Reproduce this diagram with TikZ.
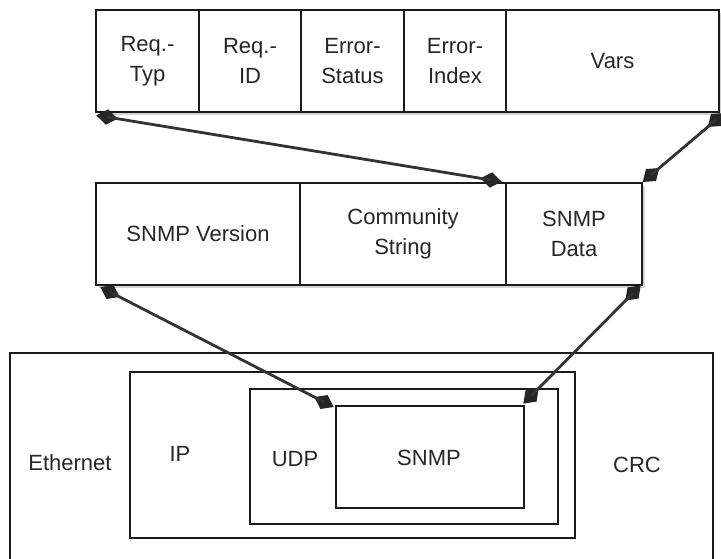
\documentclass[tikz,border=0pt]{standalone}
\usepackage{fontspec}
\setmainfont{Liberation Sans}
\usetikzlibrary{positioning, shapes.geometric}
\definecolor{rahmen}{HTML}{1A1A1A}
\definecolor{schatten}{HTML}{D4D4D4}

\begin{document}
\begin{tikzpicture}[x=0.5pt, y=-0.5pt,
  every node/.style={font=\fontsize{11}{15}\selectfont, text=black!85},
  feld/.style={draw=rahmen, line width=0.9pt, fill=white, minimum height=51pt,
    inner sep=0pt, outer sep=0pt, align=center},
  raute/.style={diamond, fill=black!85, inner sep=0pt, aspect=1.4,
    minimum width=11pt, minimum height=8pt},
  verbindung/.style={line width=1.4pt, black!80},
  kasten/.style={draw=rahmen, line width=0.9pt}]

  \useasboundingbox (0,0) rectangle (721,558);

  % === PDU (oben) ===
  \fill[schatten] (99,13) rectangle (723,115);
  \node[feld, anchor=north west, minimum width=51.5pt] (reqtyp) at (96,10) {Req.-\\Typ};
  \node[feld, minimum width=51pt, right=0pt of reqtyp] (reqid) {Req.-\\ID};
  \node[feld, minimum width=51.5pt, right=0pt of reqid] (errstatus) {Error-\\Status};
  \node[feld, minimum width=51pt, right=0pt of errstatus] (errindex) {Error-\\Index};
  \node[feld, minimum width=106.5pt, right=0pt of errindex] (vars) {Vars};

  % === SNMP-Nachricht (Mitte) ===
  \fill[schatten] (99,186) rectangle (645,288);
  \node[feld, anchor=north west, minimum width=102pt] (version) at (96,183) {SNMP Version};
  \node[feld, minimum width=103pt, right=0pt of version] (community) {Community\\String};
  \node[feld, minimum width=68pt, right=0pt of community] (daten) {SNMP\\Data};

  % === Rahmen (unten) ===
  \draw[kasten] (10,562) -- (10,353) -- (713,353) -- (713,562);
  \draw[kasten] (130,372) rectangle (575,538);
  \draw[kasten] (250,389) rectangle (558,524);
  \draw[kasten] (336,406) rectangle (524,508);

  \node (ethernet) at (70,463) {Ethernet};
  \node (ip) at (180,454) {IP};
  \node (udp) at (295,459) {UDP};
  \node (snmp) at (429,458) {SNMP};
  \node (crc) at (637,465) {CRC};

  % === Verbindungen ===
  \node[raute, rotate=-9] (d1) at (107,117) {};
  \node[raute, rotate=40] (d2) at (716,120) {};
  \node[raute, rotate=-9] (d3) at (491,180) {};
  \node[raute, rotate=40] (d4) at (651,175) {};
  \node[raute, rotate=-27] (d5) at (110,292) {};
  \node[raute, rotate=45] (d6) at (633,293) {};
  \node[raute, rotate=-27] (d7) at (324,402) {};
  \node[raute, rotate=45] (d8) at (531,396) {};

  \draw[verbindung] (d1.center) -- (d3.center);
  \draw[verbindung] (d2.center) -- (d4.center);
  \draw[verbindung] (d5.center) -- (d7.center);
  \draw[verbindung] (d6.center) -- (d8.center);

\end{tikzpicture}
\end{document}
